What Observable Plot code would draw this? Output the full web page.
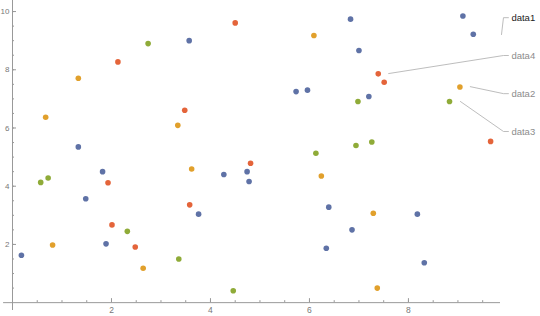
<!DOCTYPE html>
<html><head><meta charset="utf-8">
<script src="https://cdn.jsdelivr.net/npm/d3@7"></script>
<script src="https://cdn.jsdelivr.net/npm/@observablehq/plot@0.6"></script>
<style>body{margin:0;background:#fff;}</style>
</head><body><div id="chart"></div>
<script>
const seriesNames = ["data1", "data2", "data3", "data4"];
const seriesColors = ["#5f72a6", "#e1a02c", "#8fab38", "#e4643a"];

const data1 = [[1.33,5.35],[3.57,9.0],[6.83,9.74],[7.0,8.66],[5.73,7.25],[5.96,7.3],[7.2,7.08],[9.1,9.85],[9.31,9.22],[1.82,4.5],[1.48,3.57],[0.18,1.63],[1.89,2.02],[3.76,3.04],[4.27,4.4],[4.74,4.5],[4.78,4.16],[6.39,3.28],[8.18,3.04],[6.86,2.5],[6.34,1.87],[8.32,1.37]];
const data2 = [[0.67,6.37],[1.33,7.71],[3.34,6.09],[6.09,9.18],[9.04,7.41],[0.81,1.98],[2.64,1.18],[3.62,4.59],[6.24,4.35],[7.29,3.07],[7.37,0.5]];
const data3 = [[2.74,8.9],[6.98,6.91],[8.83,6.91],[6.13,5.13],[6.94,5.4],[7.26,5.52],[0.57,4.13],[0.72,4.28],[2.32,2.45],[3.36,1.5],[4.46,0.41]];
const data4 = [[2.13,8.27],[4.5,9.61],[3.48,6.61],[7.39,7.86],[7.51,7.57],[9.66,5.54],[1.93,4.12],[2.01,2.67],[2.48,1.91],[3.58,3.36],[4.81,4.79]];

const xMajor = [2, 4, 6, 8];
const xMinor = d3.range(0.5, 9.6, 0.5);
const yMajor = [2, 4, 6, 8, 10];
const yMinor = d3.range(0.5, 10.1, 0.5);

// callout labels
const calloutNames = ["data1", "data4", "data2", "data3"];
const calloutLabelY = [9.79, 8.49, 7.18, 5.88];
const calloutStartX = [9.88, 7.6, 9.25, 9.05];
const calloutStartY = [9.21, 7.87, 7.42, 6.91];
const labelX = 10.08, elbowX = 9.92, endX = 10.02;

const xAxisExtent = [-0.18, 9.86];
const yDomain = [-0.27, 10.38];

const points = [data1, data2, data3, data4].flatMap((arr, i) =>
  arr.map(([x, y]) => ({x, y, s: seriesNames[i]})));

const leaders = calloutNames.flatMap((n, i) => [
  {n, x: calloutStartX[i], y: calloutStartY[i]},
  {n, x: elbowX, y: calloutLabelY[i]},
  {n, x: endX, y: calloutLabelY[i]}
]);
const labels = calloutNames.map((n, i) => ({n, y: calloutLabelY[i]}));

const axisColor = "#999";
const font = "Liberation Sans, Arial, sans-serif";

const chart = Plot.plot({
  width: 540, height: 316,
  marginLeft: 12, marginRight: 40, marginTop: 0, marginBottom: 6,
  style: {fontFamily: font, background: "#fff"},
  x: {domain: [0, xAxisExtent[1]], axis: null},
  y: {domain: yDomain, axis: null},
  color: {domain: seriesNames, range: seriesColors},
  marks: [
    Plot.ruleY([0], {x1: xAxisExtent[0], x2: xAxisExtent[1], stroke: axisColor, strokeWidth: 1}),
    Plot.ruleX([0], {y1: yDomain[0], y2: yDomain[1], stroke: axisColor, strokeWidth: 1}),
    Plot.ruleX(xMinor, {x: d => d, y1: 0, y2: 0, insetTop: -2, stroke: axisColor}),
    Plot.ruleX(xMajor, {x: d => d, y1: 0, y2: 0, insetTop: -4, stroke: axisColor}),
    Plot.text(xMajor, {x: d => d, y: 0, dy: 8, text: d => String(d), fill: "#777", fontSize: 8.5}),
    Plot.ruleY(yMinor, {y: d => d, x1: 0, x2: 0, insetRight: -2, stroke: axisColor}),
    Plot.ruleY(yMajor, {y: d => d, x1: 0, x2: 0, insetRight: -4, stroke: axisColor}),
    Plot.text(yMajor, {x: 0, y: d => d, dx: -3, textAnchor: "end", text: d => String(d), fill: "#777", fontSize: 8}),
    Plot.line(leaders, {x: "x", y: "y", z: "n", stroke: "#b5b5b5", strokeWidth: 0.9, curve: "linear"}),
    Plot.text(labels, {x: labelX, y: "y", text: "n", textAnchor: "start", fontSize: 9.5,
      fill: d => d.n === "data1" ? "#222" : "#8c8c8c",
      fontWeight: d => d.n === "data1" ? "bold" : "normal"}),
    Plot.dot(points, {x: "x", y: "y", fill: "s", r: 2.8, stroke: "none"})
  ]
});
document.getElementById("chart").append(chart);
</script>
</body></html>
